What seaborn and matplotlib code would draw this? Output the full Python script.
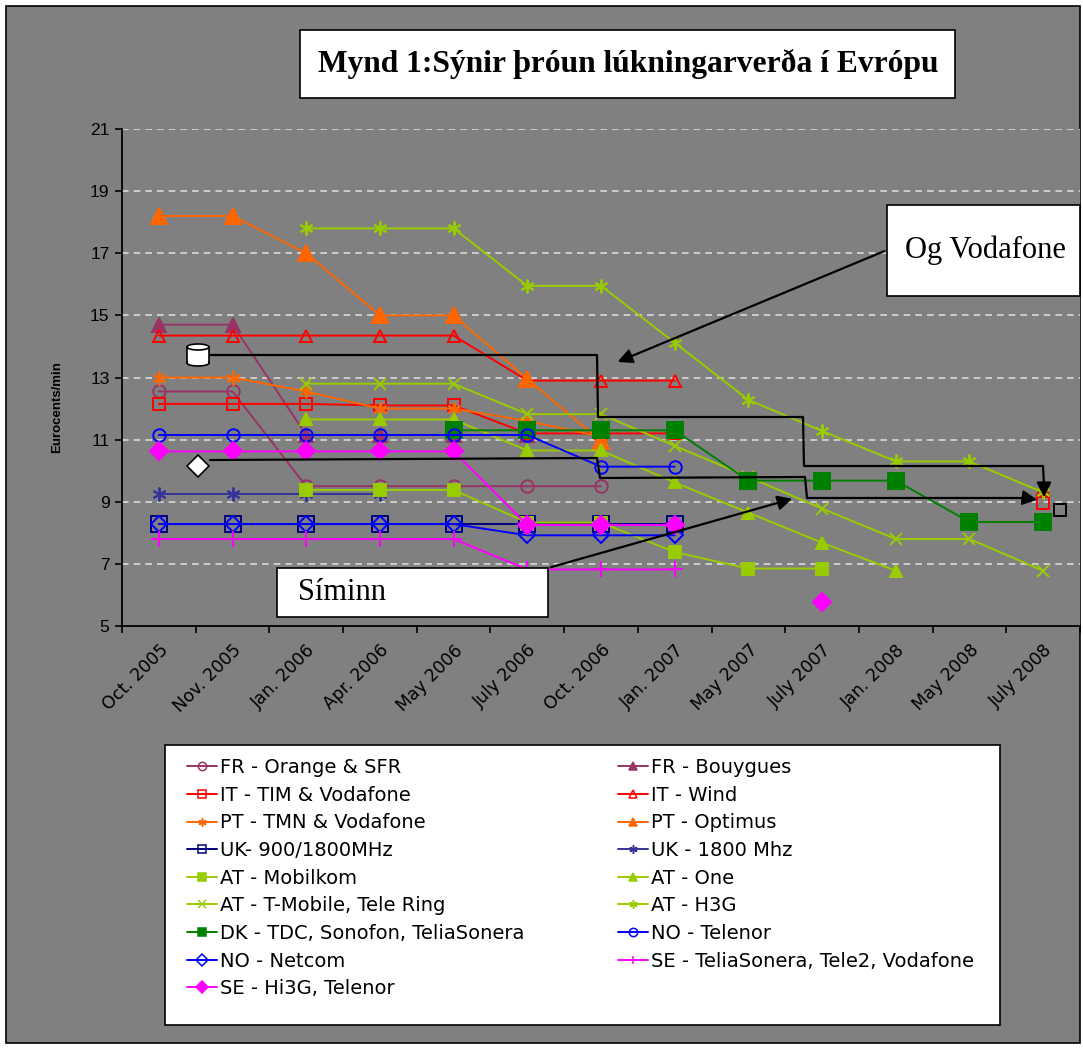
"""
Mynd 1: lúkningarverð í Evrópu (Eurocents/min) eftir tímabilum.
"""

import matplotlib
matplotlib.use("Agg")
import numpy as np
import pandas as pd
import matplotlib.pyplot as plt
import seaborn as sns
from matplotlib.patches import Rectangle, Ellipse, Polygon, FancyArrowPatch
from matplotlib.lines import Line2D

N = None

months = ["Oct. 2005", "Nov. 2005", "Jan. 2006", "Apr. 2006", "May 2006", "July 2006",
          "Oct. 2006", "Jan. 2007", "May 2007", "July 2007", "Jan. 2008", "May 2008",
          "July 2008"]

fr_orange_sfr = [12.55, 12.55, 9.5, 9.5, 9.5, 9.5, 9.5, N, N, N, N, N, N]
fr_bouygues = [14.7, 14.7, 11.15, 11.15, 11.15, 11.15, N, N, N, N, N, N, N]
it_tim = [12.15, 12.15, 12.15, 12.1, 12.1, 11.2, 11.2, 11.2, N, N, N, N, 8.95]
it_wind = [14.35, 14.35, 14.35, 14.35, 14.35, 12.9, 12.9, 12.9, N, N, N, N, 9.4]
pt_tmn = [13.0, 13.0, 12.55, 12.0, 12.0, 11.6, 11.1, N, N, N, N, N, N]
pt_optimus = [18.2, 18.2, 17.0, 15.0, 15.0, 12.95, 10.95, N, N, N, N, N, N]
uk_900 = [8.28, 8.28, 8.28, 8.28, 8.28, 8.28, 8.28, 8.28, N, N, N, N, N]
uk_1800 = [9.25, 9.25, 9.25, 9.25, N, N, N, N, N, N, N, N, N]
at_mobilkom = [N, N, 9.38, 9.38, 9.38, 8.33, 8.33, 7.38, 6.85, 6.85, N, N, N]
at_one = [N, N, 11.65, 11.65, 11.65, 10.65, 10.65, 9.62, 8.65, 7.68, 6.78, N, N]
at_tmobile = [N, N, 12.8, 12.8, 12.8, 11.82, 11.82, 10.8, 9.8, 8.78, 7.8, 7.8, 6.78]
at_h3g = [N, N, 17.8, 17.8, 17.8, 15.95, 15.95, 14.12, 12.28, 11.28, 10.3, 10.3, 9.3]
dk_tdc = [N, N, N, N, 11.3, 11.3, 11.3, 11.3, 9.68, 9.68, 9.68, 8.35, 8.35]
no_telenor = [11.15, 11.15, 11.15, 11.15, 11.15, 11.15, 10.13, 10.13, N, N, N, N, N]
no_netcom = [8.28, 8.28, 8.28, 8.28, 8.28, 7.92, 7.92, 7.92, N, N, N, N, N]
se_telia = [7.8, 7.8, 7.8, 7.8, 7.8, 6.82, 6.82, 6.82, N, N, N, N, N]
se_hi3g = [10.62, 10.62, 10.62, 10.62, 10.62, 8.25, 8.25, 8.25, N, 5.78, N, N, N]

yticks = [5, 7, 9, 11, 13, 15, 17, 19, 21]

W, H = 1083, 1051
STAR = (6, 2, 0)

# (gögn, nafn, litur, merki, fyllt, stærð)
series = [
    (fr_orange_sfr, "FR - Orange & SFR", "#993366", "o", False, 9),
    (fr_bouygues, "FR - Bouygues", "#993366", "^", True, 10),
    (it_tim, "IT - TIM & Vodafone", "#FF0000", "s", False, 9),
    (it_wind, "IT - Wind", "#FF0000", "^", False, 9),
    (pt_tmn, "PT - TMN & Vodafone", "#FF6600", STAR, False, 10),
    (pt_optimus, "PT - Optimus", "#FF6600", "^", True, 11),
    (uk_900, "UK- 900/1800MHz", "#000080", "s", False, 11),
    (uk_1800, "UK - 1800 Mhz", "#333399", STAR, False, 10),
    (at_mobilkom, "AT - Mobilkom", "#99CC00", "s", True, 9),
    (at_one, "AT - One", "#99CC00", "^", True, 9),
    (at_tmobile, "AT - T-Mobile, Tele Ring", "#99CC00", "x", False, 9),
    (at_h3g, "AT - H3G", "#99CC00", STAR, False, 10),
    (dk_tdc, "DK - TDC, Sonofon, TeliaSonera", "#008000", "s", True, 11),
    (no_telenor, "NO - Telenor", "#0000FF", "o", False, 9),
    (no_netcom, "NO - Netcom", "#0000FF", "D", False, 8),
    (se_telia, "SE - TeliaSonera, Tele2, Vodafone", "#FF00FF", "+", False, 11),
    (se_hi3g, "SE - Hi3G, Telenor", "#FF00FF", "D", True, 9),
]


def px(x, y):
    """Pixlar (frá efra vinstra horni) -> hlutfall af mynd."""
    return x / W, 1 - y / H


def draw_series(ax, values, color, marker, filled, size):
    s = pd.Series(values, dtype=float)
    ok = s.notna()
    run_id = (ok != ok.shift()).cumsum()
    handle = None
    for _, seg in s[ok].groupby(run_id[ok]):
        sns.lineplot(x=seg.index.values, y=seg.values, ax=ax, color=color,
                     marker=marker, markersize=size,
                     markerfacecolor=color if filled else "none",
                     markeredgecolor=color, markeredgewidth=1.4,
                     linewidth=1.4, sort=False, estimator=None)
        if handle is None:
            handle = ax.lines[-1]
    return handle


sns.set_theme(style="ticks", rc={"text.color": "black", "axes.labelcolor": "black",
                                 "xtick.color": "black", "ytick.color": "black"})
plt.rcParams["font.family"] = ["Liberation Sans", "DejaVu Sans"]
wide = ["DejaVu Sans"]
serif = ["Liberation Serif", "DejaVu Serif"]

fig = plt.figure(figsize=(W / 100, H / 100), dpi=100, facecolor="white")

# grár bakgrunnur með svörtum ramma
x0, y0 = px(6, 1043)
x1, y1 = px(1080, 6)
fig.add_artist(Rectangle((x0, y0), x1 - x0, y1 - y0, transform=fig.transFigure,
                         facecolor="#808080", edgecolor="black", linewidth=1.2, zorder=0))

ax = fig.add_axes([122 / W, 1 - 626 / H, (1080 - 122) / W, (626 - 129) / H])
ax.set_facecolor("#808080")

handles, labels = [], []
for values, name, color, marker, filled, size in series:
    h = draw_series(ax, values, color, marker, filled, size)
    handles.append(h)
    labels.append(name)

ax.set_xlim(-0.5, len(months) - 0.5)
ax.set_ylim(5, 21)
ax.set_yticks(yticks)
ax.set_yticklabels([str(v) for v in yticks], fontsize=12.5)
ax.set_xticks(range(len(months)))
ax.set_xticklabels(months, rotation=45, ha="right", rotation_mode="anchor",
                   fontsize=12.5, family=wide)
ax.set_xticks(np.arange(-0.5, len(months), 1), minor=True)
ax.tick_params(axis="x", which="major", length=0, pad=11)
ax.tick_params(axis="x", which="minor", length=5, width=1.2, color="black", direction="out")
ax.tick_params(axis="y", length=5, width=1.2, color="black", direction="out", pad=4)
for v in yticks[1:]:
    ax.axhline(v, color="#D9D9D9", linestyle=(0, (4, 3)), linewidth=1.2, zorder=0.5)
ax.set_xlabel("")
ax.set_ylabel("")
fig.text(*px(57, 407), "Eurocents/min", rotation=90, fontsize=9.5, fontweight="bold",
         ha="center", va="center")
sns.despine(ax=ax)
for sp in ["left", "bottom"]:
    ax.spines[sp].set_color("black")
    ax.spines[sp].set_linewidth(1.3)
ax.grid(False)

# skýringar: hvítur kassi og tveir dálkar
bx0, by0 = px(165, 1025)
bx1, by1 = px(1000, 745)
fig.add_artist(Rectangle((bx0, by0), bx1 - bx0, by1 - by0, transform=fig.transFigure,
                         facecolor="white", edgecolor="black", linewidth=1.2, zorder=2))
for col, start_x in [(0, 187), (1, 618)]:
    idx = list(range(col, len(handles), 2))
    leg = fig.legend([handles[i] for i in idx], [labels[i] for i in idx],
                     loc="upper left", bbox_to_anchor=px(start_x, 758),
                     frameon=False, borderpad=0, borderaxespad=0,
                     prop={"family": wide, "size": 14}, handlelength=1.55,
                     handletextpad=0.15, labelspacing=0.445)
    leg.set_zorder(3)
    for h in leg.legend_handles:
        h.set_markersize(6)
        h.set_markeredgewidth(1.1)


def text_box(left, top, right, bottom, text, size, weight="normal", tx=None):
    rx0, ry0 = px(left, bottom)
    rx1, ry1 = px(right, top)
    fig.add_artist(Rectangle((rx0, ry0), rx1 - rx0, ry1 - ry0, transform=fig.transFigure,
                             facecolor="white", edgecolor="black", linewidth=1.2, zorder=5))
    tx_ = tx if tx is not None else left + 18
    fig.text(*px(tx_, (top + bottom) / 2), text, family=serif, fontsize=size,
             fontweight=weight, ha="left", va="center", zorder=6, color="black")


text_box(300, 30, 955, 98, "Mynd 1:Sýnir þróun lúkningarverða í Evrópu", 22.7, "bold", tx=318)
text_box(887, 205, 1080, 296, "Og Vodafone", 22, tx=905)
text_box(277, 568, 548, 617, "Síminn", 22, tx=298)


def poly(points):
    pts = [px(x, y) for x, y in points]
    fig.add_artist(Line2D([p[0] for p in pts], [p[1] for p in pts], transform=fig.transFigure,
                          color="black", linewidth=1.6, zorder=4))


def arrow(start, end):
    fig.add_artist(FancyArrowPatch(px(*start), px(*end), transform=fig.transFigure,
                                   arrowstyle="-|>", mutation_scale=22, color="black",
                                   linewidth=1.6, zorder=4))


# tengilínur frá táknum
poly([(210, 355), (597, 355), (598, 417), (803, 417), (804, 466), (1043, 466), (1044, 485)])
arrow((1044, 480), (1044, 500))
poly([(210, 460), (597, 458), (600, 478), (805, 477), (807, 498), (1030, 498)])
arrow((1025, 498), (1040, 500))
arrow((887, 250), (615, 363))
arrow((548, 568), (795, 498))

# sívalningur
cx, cy = px(198, 354)
fig.add_artist(Rectangle((cx - 11 / W, cy - 9 / H), 22 / W, 16 / H, transform=fig.transFigure,
                         facecolor="white", edgecolor="black", linewidth=1.2, zorder=5))
fig.add_artist(Ellipse((cx, cy - 9 / H), 22 / W, 6 / H, transform=fig.transFigure,
                       facecolor="white", edgecolor="black", linewidth=1.2, zorder=5))
fig.add_artist(Rectangle((cx - 10.4 / W, cy - 9 / H), 20.8 / W, 15 / H, transform=fig.transFigure,
                         facecolor="white", edgecolor="none", zorder=5))
fig.add_artist(Ellipse((cx, cy + 7 / H), 22 / W, 6 / H, transform=fig.transFigure,
                       facecolor="white", edgecolor="black", linewidth=1.2, zorder=5))

# tígull
dx, dy = px(198, 466)
fig.add_artist(Polygon([(dx - 11 / W, dy), (dx, dy + 11 / H), (dx + 11 / W, dy), (dx, dy - 11 / H)],
                       closed=True, transform=fig.transFigure, facecolor="white",
                       edgecolor="black", linewidth=1.2, zorder=5))

# lítill ferningur
sx, sy = px(1054, 516)
fig.add_artist(Rectangle((sx, sy), 12 / W, 12 / H, transform=fig.transFigure,
                         facecolor="none", edgecolor="black", linewidth=1.4, zorder=5))

fig.savefig("out.png", dpi=100, facecolor=fig.get_facecolor())
